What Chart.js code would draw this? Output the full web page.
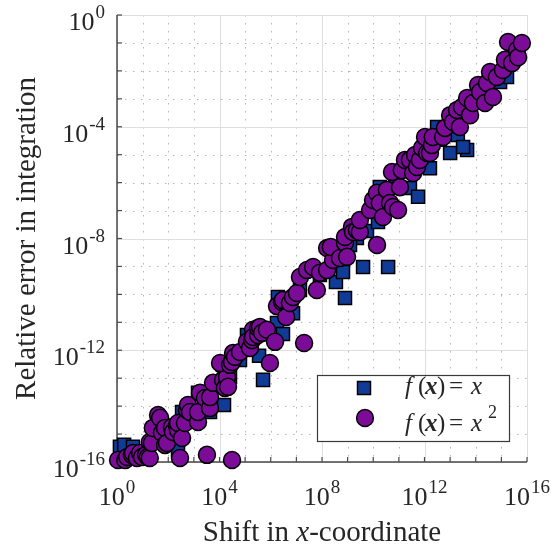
<!DOCTYPE html>
<html><head><meta charset="utf-8">
<script src="https://cdn.jsdelivr.net/npm/chart.js@4/dist/chart.umd.min.js"></script>
<style>html,body{margin:0;padding:0;background:#fff}#wrap{width:551px;height:550px}</style>
</head><body><div id="wrap"><canvas id="c" width="551" height="550"></canvas></div>
<script>
// ---- data ----
const squareX = [1.3,1.9,4.2,240,346,1450,4260,4260,1.5e4,2.57e4,1.18e5,3.5e5,5.0e5,1.75e6,1.9e6,3.0e6,7.4e6,3.5e8,6.6e8,7.9e8,2.3e9,4.0e9,5.7e9,1.53e10,1.8e10,3.8e10,2.7e11,5.6e11,1.63e12,3.1e12,1.0e13,2.0e13,4.6e13,3.2e13,8.9e14,1.66e15,30,117,6.3e4,1.38e7,8.3e7,1.24e9,7.1e10,4.0e12,1.47e14];
const squareY = [3.5e-16,4.1e-16,3.5e-16,2.7e-16,6.2e-15,3.0e-14,2.5e-14,6.2e-15,1.1e-14,1.1e-13,3.5e-12,6.3e-13,8.7e-14,9.5e-12,8.1e-11,3.8e-12,2.1e-11,2.8e-10,6.3e-10,7.4e-11,1.05e-8,9.6e-10,1.86e-8,3.9e-8,6.9e-7,9.6e-10,6.4e-7,3.1e-7,3.3e-6,9.8e-5,1.15e-5,5.1e-5,1.48e-5,1.9e-5,4.0e-3,6.0e-3,6.2e-16,1.18e-15,4.5e-13,1.44e-10,4.9e-10,5.9e-9,1.24e-6,3.4e-5,9.1e-4];

const circleX = [1.1,2.1,2.5,3.8,4.2,6.0,7.9,9.5,13.6,16,19,19,23,25,40,48,57,75,75,89,140,153,219,240,240,288,346,451,538,589,707,1450,1450,1740,2700,3240,4260,4260,5600,1.26e4,1.38e4,1.63e4,1.96e4,2.15e4,1.05e4,2.57e4,3.08e4,3.08e4,3.38e4,4.0e4,6.3e4,1.18e5,1.55e5,1.86e5,2.04e5,2.04e5,3.2e5,3.2e5,3.8e5,4.6e5,7.1e5,9.3e5,1.47e6,1.75e6,2.75e6,3.0e6,4.0e6,5.6e6,7.4e6,1.05e7,1.38e7,2.0e7,2.6e7,4.5e7,6.3e7,8.3e7,1.58e8,1.58e8,2.7e8,2.2e8,5.0e8,7.9e8,9.5e8,7.9e8,1.48e9,1.62e9,2.3e9,3.0e9,3.0e9,7.5e9,9.8e9,1.4e10,1.4e10,1.8e10,2.4e10,3.4e10,4.5e10,5.9e10,5.4e10,9.3e10,1.1e11,1.3e11,1.73e11,2.7e11,3.6e11,4.3e11,5.1e11,6.6e11,8.0e11,1.05e12,1.26e12,1.63e12,1.95e12,2.1e12,5.3e12,6.3e12,1.0e13,1.3e13,1.86e13,2.4e13,2.9e13,4.6e13,6.0e13,7.8e13,1.23e14,1.47e14,2.3e14,2.75e14,3.6e14,4.7e14,6.7e14,1.15e15,1.38e15,1.82e15,2.6e15,4.1e15,4.5e15,6.3e15];
const circleY = [1.18e-16,1.18e-16,1.5e-16,1.8e-16,2.1e-16,1.4e-16,2.1e-16,1.5e-16,1.8e-16,1.5e-16,1.4e-16,5.2e-16,4.8e-16,1.66e-15,4.8e-15,3.8e-15,1.1e-15,4.1e-16,1.66e-15,4.8e-16,1.8e-15,1.18e-15,2.1e-15,1.4e-15,2.5e-15,1.4e-16,7.2e-16,2.5e-15,7.2e-15,1.1e-14,6.2e-15,2.7e-15,6.2e-15,3.0e-14,1.95e-14,1.8e-16,8.5e-15,2.1e-14,6.8e-14,3.0e-13,8.7e-14,4.5e-14,1.1e-13,4.9e-14,3.5e-13,3.0e-13,1.18e-16,3.8e-13,7.9e-13,5.8e-13,8.7e-13,2.0e-12,1.2e-12,2.3e-12,5.4e-12,3.0e-12,3.5e-12,6.3e-12,6.8e-12,4.2e-12,5.4e-12,3.5e-13,2.0e-12,3.8e-11,5.4e-11,6.3e-11,1.55e-11,4.9e-11,8.1e-11,1.12e-10,4.2e-10,1.82e-12,7.4e-10,9.6e-10,1.44e-10,5.9e-10,7.4e-10,4.6e-9,1.7e-9,5.0e-9,2.0e-9,6.9e-9,2.2e-9,1.13e-8,2.6e-8,1.7e-8,2.0e-8,1.7e-8,4.6e-8,1.05e-7,2.4e-7,5.9e-9,4.3e-7,1.86e-7,5.9e-8,5.5e-7,1.86e-7,1.35e-7,2.4e-6,1.05e-7,6.9e-7,2.8e-6,6.5e-6,6.5e-6,2.2e-6,9.8e-6,3.6e-6,6.5e-6,1.74e-5,4.3e-5,1.15e-5,1.15e-5,2.2e-5,4.3e-5,4.3e-5,9.1e-5,2.6e-4,1.48e-4,4.0e-4,9.8e-5,5.1e-4,1.07e-3,2.6e-4,7.1e-4,3.1e-3,1.75e-3,7.1e-4,3.7e-3,9.1e-3,1.16e-3,6.0e-3,1.08e-2,2.5e-2,1.08e-1,1.9e-2,5.6e-2,3.1e-2,1.0e-1];

const xTickExps = [0, 4, 8, 12, 16];
const yTickExps = [0, -4, -8, -12, -16];
const xTitleParts = ['Shift in ', 'x', '-coordinate'];
const yTitle = 'Relative error in integration';

// ---- styling ----
const SERIF = '"Liberation Serif","Times New Roman",serif';
const TXT = '#262626';
const SQ_FILL = '#103C97';
const CI_FILL = 'rgb(122,12,152)';
const BASE_PX = 26, SUP_PX = 19;

function toPts(xs, ys){ return xs.map((v,i)=>({x:v, y:ys[i]})); }

function drawPow(ctx, exp, x, baseY, align){
  const base = '10', sup = String(exp);
  ctx.font = BASE_PX + 'px ' + SERIF;
  const wb = ctx.measureText(base).width;
  ctx.font = SUP_PX + 'px ' + SERIF;
  const ws = ctx.measureText(sup).width;
  const total = wb + 1 + ws;
  const x0 = align === 'center' ? x - total/2 : x - total;
  ctx.textAlign = 'left'; ctx.textBaseline = 'alphabetic';
  ctx.font = BASE_PX + 'px ' + SERIF; ctx.fillText(base, x0, baseY);
  ctx.font = SUP_PX + 'px ' + SERIF; ctx.fillText(sup, x0 + wb + 1, baseY - 12);
}

const decor = {
  id: 'decor',
  beforeDatasetsDraw(chart){
    const {ctx, chartArea:a, scales:{x, y}} = chart;
    ctx.save();
    for (let e = 0; e <= 16; e++){
      const px = Math.round(x.getPixelForValue(Math.pow(10, e))) + 0.5;
      ctx.beginPath();
      if (e % 4 === 0){ ctx.setLineDash([]); ctx.strokeStyle = '#dedede'; }
      else { ctx.setLineDash([1.5, 6.5]); ctx.strokeStyle = '#b4b4b4'; }
      ctx.lineWidth = 1;
      ctx.moveTo(px, a.top); ctx.lineTo(px, a.bottom); ctx.stroke();
    }
    for (let e = -16; e <= 0; e++){
      const py = Math.round(y.getPixelForValue(Math.pow(10, e))) + 0.5;
      ctx.beginPath();
      if (e % 4 === 0){ ctx.setLineDash([]); ctx.strokeStyle = '#dedede'; }
      else { ctx.setLineDash([1.5, 6.5]); ctx.strokeStyle = '#b4b4b4'; }
      ctx.lineWidth = 1;
      ctx.moveTo(a.left, py); ctx.lineTo(a.right, py); ctx.stroke();
    }
    ctx.setLineDash([]);
    ctx.strokeStyle = '#4a4a4a'; ctx.lineWidth = 1.5;
    ctx.beginPath();
    ctx.moveTo(a.left, a.top); ctx.lineTo(a.left, a.bottom); ctx.lineTo(a.right, a.bottom);
    ctx.stroke();
    ctx.lineWidth = 1.2;
    for (let e = 0; e <= 16; e++){
      const px = x.getPixelForValue(Math.pow(10, e));
      ctx.beginPath(); ctx.moveTo(px, a.bottom); ctx.lineTo(px, a.bottom - 5); ctx.stroke();
    }
    for (let e = -16; e <= 0; e++){
      const py = y.getPixelForValue(Math.pow(10, e));
      ctx.beginPath(); ctx.moveTo(a.left, py); ctx.lineTo(a.left + 5, py); ctx.stroke();
    }
    ctx.restore();
  },
  afterDraw(chart){
    const {ctx, chartArea:a, scales:{x, y}} = chart;
    ctx.save();
    ctx.fillStyle = TXT;
    xTickExps.forEach(e => drawPow(ctx, e, x.getPixelForValue(Math.pow(10, e)), a.bottom + 43, 'center'));
    yTickExps.forEach(e => drawPow(ctx, e, a.left - 12, y.getPixelForValue(Math.pow(10, e)) + 15, 'right'));
    const TF = '29px ' + SERIF, TFI = 'italic 29px ' + SERIF;
    ctx.font = TF;  const w0 = ctx.measureText(xTitleParts[0]).width;
    ctx.font = TFI; const w1 = ctx.measureText(xTitleParts[1]).width;
    ctx.font = TF;  const w2 = ctx.measureText(xTitleParts[2]).width;
    const cx = (a.left + a.right) / 2;
    const sx = cx - (w0 + w1 + w2) / 2;
    const by = 541;
    ctx.textAlign = 'left'; ctx.textBaseline = 'alphabetic';
    ctx.font = TF;  ctx.fillText(xTitleParts[0], sx, by);
    ctx.font = TFI; ctx.fillText(xTitleParts[1], sx + w0, by);
    ctx.font = TF;  ctx.fillText(xTitleParts[2], sx + w0 + w1, by);
    ctx.save();
    ctx.translate(35, (a.top + a.bottom) / 2);
    ctx.rotate(-Math.PI / 2);
    ctx.textAlign = 'center';
    ctx.font = TF;
    ctx.fillText(yTitle, 0, 0);
    ctx.restore();
    // legend
    const lx = 317, ly = 375, lw = 192, lh = 66;
    ctx.fillStyle = '#fff';
    ctx.fillRect(lx, ly, lw, lh);
    ctx.strokeStyle = '#3a3a3a'; ctx.lineWidth = 1.2;
    ctx.strokeRect(lx + 0.5, ly + 0.5, lw, lh);
    ctx.lineWidth = 1.5; ctx.strokeStyle = '#000';
    ctx.fillStyle = SQ_FILL;
    ctx.beginPath(); ctx.rect(364 - 6.5, 388 - 6.5, 13, 13); ctx.fill(); ctx.stroke();
    ctx.fillStyle = CI_FILL;
    ctx.beginPath(); ctx.arc(365, 418, 8.4, 0, Math.PI * 2); ctx.fill(); ctx.stroke();
    ctx.fillStyle = TXT;
    const LF = 25;
    function fx(baseY, squared){
      ctx.font = 'italic ' + LF + 'px ' + SERIF; ctx.fillText('f', 405, baseY);
      ctx.font = LF + 'px ' + SERIF; ctx.fillText('(', 418, baseY);
      ctx.font = 'italic bold ' + LF + 'px ' + SERIF; ctx.fillText('x', 425, baseY);
      ctx.font = LF + 'px ' + SERIF; ctx.fillText(')', 437, baseY);
      ctx.font = LF + 'px ' + SERIF; ctx.fillText('=', 449, baseY);
      ctx.font = 'italic ' + LF + 'px ' + SERIF; ctx.fillText('x', 471, baseY);
      if (squared){ ctx.font = '18px ' + SERIF; ctx.fillText('2', 488, baseY - 13); }
    }
    fx(394, false);
    fx(431, true);
    ctx.restore();
  }
};

new Chart(document.getElementById('c'), {
  type: 'scatter',
  data: {
    datasets: [
      { label: 'f(x) = x', data: toPts(squareX, squareY), pointStyle: 'rect', pointRadius: 9.2,
        backgroundColor: SQ_FILL, borderColor: '#000', borderWidth: 1.5, order: 1, clip: false },
      { label: 'f(x) = x^2', data: toPts(circleX, circleY), pointStyle: 'circle', pointRadius: 8.5,
        backgroundColor: CI_FILL, borderColor: '#000', borderWidth: 1.5, order: 0, clip: false }
    ]
  },
  options: {
    responsive: false, animation: false, devicePixelRatio: 1,
    layout: { padding: { left: 117, right: 24, top: 15, bottom: 88 } },
    plugins: { legend: { display: false }, tooltip: { enabled: false } },
    scales: {
      x: { type: 'logarithmic', min: 1, max: 1e16, display: true,
           grid: { display: false }, border: { display: false }, ticks: { display: false },
           afterFit(s){ s.height = 0; s.paddingLeft = 0; s.paddingRight = 0; } },
      y: { type: 'logarithmic', min: 1e-16, max: 1, display: true,
           grid: { display: false }, border: { display: false }, ticks: { display: false },
           afterFit(s){ s.width = 0; s.paddingTop = 0; s.paddingBottom = 0; } }
    }
  },
  plugins: [decor]
});
</script></body></html>
